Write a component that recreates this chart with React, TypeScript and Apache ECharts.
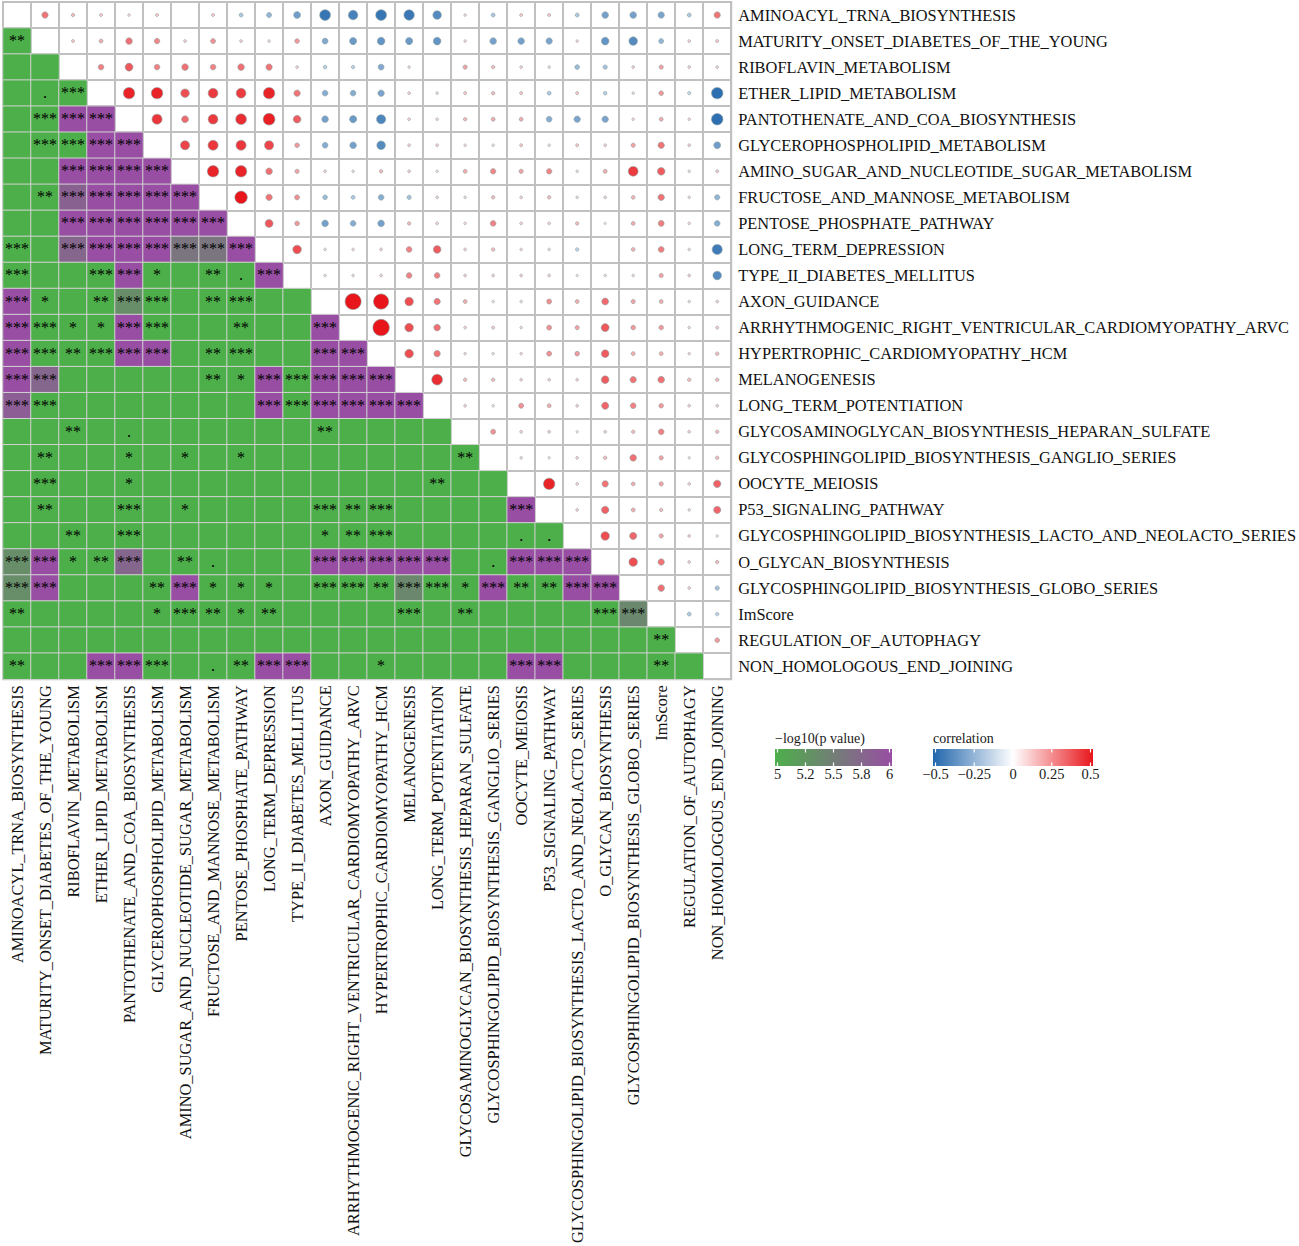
import React, { useEffect, useRef } from "react";
import * as echarts from "echarts";

const labels = [
  "AMINOACYL_TRNA_BIOSYNTHESIS",
  "MATURITY_ONSET_DIABETES_OF_THE_YOUNG",
  "RIBOFLAVIN_METABOLISM",
  "ETHER_LIPID_METABOLISM",
  "PANTOTHENATE_AND_COA_BIOSYNTHESIS",
  "GLYCEROPHOSPHOLIPID_METABOLISM",
  "AMINO_SUGAR_AND_NUCLEOTIDE_SUGAR_METABOLISM",
  "FRUCTOSE_AND_MANNOSE_METABOLISM",
  "PENTOSE_PHOSPHATE_PATHWAY",
  "LONG_TERM_DEPRESSION",
  "TYPE_II_DIABETES_MELLITUS",
  "AXON_GUIDANCE",
  "ARRHYTHMOGENIC_RIGHT_VENTRICULAR_CARDIOMYOPATHY_ARVC",
  "HYPERTROPHIC_CARDIOMYOPATHY_HCM",
  "MELANOGENESIS",
  "LONG_TERM_POTENTIATION",
  "GLYCOSAMINOGLYCAN_BIOSYNTHESIS_HEPARAN_SULFATE",
  "GLYCOSPHINGOLIPID_BIOSYNTHESIS_GANGLIO_SERIES",
  "OOCYTE_MEIOSIS",
  "P53_SIGNALING_PATHWAY",
  "GLYCOSPHINGOLIPID_BIOSYNTHESIS_LACTO_AND_NEOLACTO_SERIES",
  "O_GLYCAN_BIOSYNTHESIS",
  "GLYCOSPHINGOLIPID_BIOSYNTHESIS_GLOBO_SERIES",
  "ImScore",
  "REGULATION_OF_AUTOPHAGY",
  "NON_HOMOLOGOUS_END_JOINING",
];

// lower triangle: -log10(p value), row i (1..25), columns 0..i-1
const pLogRows: number[][] = [
  [5],
  [5, 5],
  [5, 5, 5],
  [5, 5, 6, 6],
  [5, 5, 5, 6, 6],
  [5, 5, 6, 6, 6, 6],
  [5, 5, 5.8, 6, 6, 6, 6],
  [5, 5, 6, 6, 6, 6, 6, 6],
  [5, 5, 5.75, 6, 6, 6, 5.6, 5.6, 6],
  [5, 5, 5, 5, 6, 5, 5, 5, 5, 6],
  [6, 5, 5, 5, 5.35, 5, 5, 5, 5, 5, 5],
  [6, 5, 5, 5, 6, 5, 5, 5, 5, 5, 5, 6],
  [6, 5, 5, 5, 6, 6, 5, 5, 5, 5, 5, 6, 6],
  [6, 5.75, 5, 5, 5, 5, 5, 5, 5, 6, 5, 6, 6, 6],
  [5.85, 5, 5, 5, 5, 5, 5, 5, 5, 6, 5, 6, 6, 6, 6],
  [5, 5, 5, 5, 5, 5, 5, 5, 5, 5, 5, 5, 5, 5, 5, 5],
  [5, 5, 5, 5, 5, 5, 5, 5, 5, 5, 5, 5, 5, 5, 5, 5, 5],
  [5, 5, 5, 5, 5, 5, 5, 5, 5, 5, 5, 5, 5, 5, 5, 5, 5, 5],
  [5, 5, 5, 5, 5, 5, 5, 5, 5, 5, 5, 5, 5, 5, 5, 5, 5, 5, 6],
  [5, 5, 5, 5, 5, 5, 5, 5, 5, 5, 5, 5, 5, 5, 5, 5, 5, 5, 5, 5],
  [5.35, 6, 5, 5, 5.75, 5, 5, 5, 5, 5, 5, 6, 6, 6, 6, 6, 5, 5, 6, 6, 6],
  [5.35, 6, 5, 5, 5, 5, 6, 5, 5, 5, 5, 5, 5, 5, 5.4, 5, 5, 6, 5, 5, 6, 6],
  [5, 5, 5, 5, 5, 5, 5, 5, 5, 5, 5, 5, 5, 5, 5, 5, 5, 5, 5, 5, 5, 5, 5.4],
  [5, 5, 5, 5, 5, 5, 5, 5, 5, 5, 5, 5, 5, 5, 5, 5, 5, 5, 5, 5, 5, 5, 5, 5],
  [5, 5, 5, 6, 6, 5, 5, 5, 5, 6, 6, 5, 5, 5, 5, 5, 5, 5, 6, 6, 5, 5, 5, 5, 5],
];

// lower triangle significance marks
const starRows: string[][] = [
  ["**"],
  ["", ""],
  ["", ".", "***"],
  ["", "***", "***", "***"],
  ["", "***", "***", "***", "***"],
  ["", "", "***", "***", "***", "***"],
  ["", "**", "***", "***", "***", "***", "***"],
  ["", "", "***", "***", "***", "***", "***", "***"],
  ["***", "", "***", "***", "***", "***", "***", "***", "***"],
  ["***", "", "", "***", "***", "*", "", "**", ".", "***"],
  ["***", "*", "", "**", "***", "***", "", "**", "***", "", ""],
  ["***", "***", "*", "*", "***", "***", "", "", "**", "", "", "***"],
  ["***", "***", "**", "***", "***", "***", "", "**", "***", "", "", "***", "***"],
  ["***", "***", "", "", "", "", "", "**", "*", "***", "***", "***", "***", "***"],
  ["***", "***", "", "", "", "", "", "", "", "***", "***", "***", "***", "***", "***"],
  ["", "", "**", "", ".", "", "", "", "", "", "", "**", "", "", "", ""],
  ["", "**", "", "", "*", "", "*", "", "*", "", "", "", "", "", "", "", "**"],
  ["", "***", "", "", "*", "", "", "", "", "", "", "", "", "", "", "**", "", ""],
  ["", "**", "", "", "***", "", "*", "", "", "", "", "***", "**", "***", "", "", "", "", "***"],
  ["", "", "**", "", "***", "", "", "", "", "", "", "*", "**", "***", "", "", "", "", ".", "."],
  ["***", "***", "*", "**", "***", "", "**", ".", "", "", "", "***", "***", "***", "***", "***", "", ".", "***", "***", "***"],
  ["***", "***", "", "", "", "**", "***", "*", "*", "*", "", "***", "***", "**", "***", "***", "*", "***", "**", "**", "***", "***"],
  ["**", "", "", "", "", "*", "***", "**", "*", "**", "", "", "", "", "***", "", "**", "", "", "", "", "***", "***"],
  ["", "", "", "", "", "", "", "", "", "", "", "", "", "", "", "", "", "", "", "", "", "", "", "**"],
  ["**", "", "", "***", "***", "***", "", ".", "**", "***", "***", "", "", "*", "", "", "", "", "***", "***", "", "", "", "**", ""],
];

// upper triangle: correlation, row i (0..24), columns i+1..25
const corrRows: number[][] = [
  [0.3, 0.15, 0.12, 0.08, 0.12, 0, 0.12, -0.18, -0.24, -0.32, -0.45, -0.41, -0.45, -0.44, -0.38, 0.08, -0.18, 0.12, 0.12, -0.18, -0.31, -0.31, -0.3, -0.18, 0.3],
  [0.12, 0.18, 0.31, 0.26, 0.1, 0.24, 0.1, 0.08, 0.22, -0.28, -0.33, -0.35, -0.33, -0.35, 0.08, -0.31, -0.31, -0.3, 0.08, -0.35, -0.38, -0.24, 0.1, 0.12],
  [0.27, 0.36, 0.27, 0.31, 0.27, 0.31, 0.3, 0.1, -0.16, -0.15, -0.28, 0.08, 0, 0.2, 0.15, 0.1, 0.08, -0.22, -0.2, 0.1, 0.2, 0.1, 0.1],
  [0.47, 0.47, 0.38, 0.42, 0.42, 0.47, 0.3, -0.27, -0.27, -0.3, 0.1, 0.08, 0.12, 0.15, 0.12, -0.18, 0.12, -0.16, 0.08, 0.22, -0.13, -0.47],
  [0.43, 0.32, 0.42, 0.45, 0.48, 0.35, -0.31, -0.33, -0.4, 0.1, 0.08, 0.15, 0.18, 0.18, -0.27, -0.3, -0.3, 0.08, 0.18, 0.08, -0.47],
  [0.4, 0.43, 0.43, 0.4, 0.22, -0.27, -0.31, -0.38, 0.1, 0.1, 0.08, 0.08, 0.12, 0.08, 0.12, 0.1, 0.2, 0.3, 0.1, -0.32],
  [0.47, 0.47, 0.31, 0.2, 0.1, 0.08, 0.15, 0.1, 0.08, 0.18, 0.26, 0.2, 0.26, 0.08, 0.18, 0.42, 0.35, 0.08, 0.12],
  [0.5, 0.3, 0.24, -0.22, -0.18, -0.27, -0.2, 0.1, 0.08, 0.15, 0.1, 0.15, 0.08, 0.1, 0.17, 0.3, 0.08, -0.25],
  [0.36, 0.22, -0.31, -0.27, -0.31, 0.15, 0.1, 0.08, 0.27, 0.1, 0.1, 0.15, 0.05, 0.18, 0.28, 0.08, -0.27],
  [0.38, 0.08, 0.08, 0.1, 0.27, 0.35, 0.1, 0.15, 0.08, 0.08, -0.15, 0, 0.17, 0.28, 0.08, -0.43],
  [0.08, 0.08, 0.1, 0.27, 0.27, 0.1, 0.1, 0.1, 0.1, 0.06, 0.08, 0.08, 0.2, 0.1, -0.38],
  [0.59, 0.57, 0.38, 0.3, 0.18, 0.08, 0.08, 0.24, 0.18, 0.32, 0.2, 0.18, 0.08, 0.1],
  [0.6, 0.38, 0.31, 0.1, 0.12, 0.08, 0.24, 0.2, 0.36, 0.22, 0.22, 0.08, 0.12],
  [0.38, 0.3, 0.08, 0.08, 0.08, 0.24, 0.22, 0.35, 0.18, 0.18, 0.08, 0.15],
  [0.45, 0.15, 0.15, 0.1, 0.1, 0.1, 0.35, 0.3, 0.31, 0.15, 0.15],
  [0.1, 0.08, 0.24, 0.18, 0.1, 0.33, 0.27, 0.22, 0.1, 0.1],
  [0.24, 0.1, 0.1, 0.06, 0.1, 0.15, 0.27, 0.1, 0.15],
  [0.08, 0.06, 0.1, 0.15, 0.31, 0.2, 0.06, 0.15],
  [0.47, 0.1, 0.3, 0.18, 0.2, 0.1, 0.34],
  [0.1, 0.34, 0.18, 0.15, 0.08, 0.33],
  [0.38, 0.33, 0.2, 0.1, 0.06],
  [0.38, 0.3, 0.1, 0.15],
  [0.31, 0.1, -0.2],
  [-0.18, -0.15],
  [0.22],
];

const pTicks = [5, 5.25, 5.5, 5.75, 6];
const pTickLabels = ["5", "5.2", "5.5", "5.8", "6"];
const corrTicks = [-0.5, -0.25, 0, 0.25, 0.5];
const corrTickLabels = ["\u22120.5", "\u22120.25", "0", "0.25", "0.5"];

const GREEN = "#4DAF4A";
const PURPLE = "#984EA3";
const BLUE = "#2166AC";
const RED = "#E8161B";
const FONT = '"Liberation Serif", "Times New Roman", serif';

function buildLegend() {
  const els: any[] = [];
  const addBar = (
    title: string,
    x: number,
    w: number,
    stops: any[],
    ticks: number[],
    tickLabels: string[],
    vmin: number,
    vmax: number
  ) => {
    const y = 749;
    const h = 17;
    els.push({
      type: "text",
      x: x,
      y: 738,
      style: { text: title, font: `14px ${FONT}`, fill: "#1a1a1a", textVerticalAlign: "middle", textAlign: "left" },
    });
    els.push({
      type: "rect",
      shape: { x, y, width: w, height: h },
      style: { fill: new echarts.graphic.LinearGradient(0, 0, 1, 0, stops) },
    });
    ticks.forEach((t, k) => {
      const px = x + 2.5 + ((t - vmin) / (vmax - vmin)) * (w - 5);
      els.push({ type: "line", shape: { x1: px, y1: y, x2: px, y2: y + 3.5 }, style: { stroke: "#fff", lineWidth: 1.2 } });
      els.push({ type: "line", shape: { x1: px, y1: y + h - 3.5, x2: px, y2: y + h }, style: { stroke: "#fff", lineWidth: 1.2 } });
      els.push({
        type: "text",
        x: px,
        y: 774,
        style: { text: tickLabels[k], font: `14.5px ${FONT}`, fill: "#1a1a1a", textAlign: "center", textVerticalAlign: "middle" },
      });
    });
  };
  addBar(
    "\u2212log10(p value)",
    775,
    117,
    [
      { offset: 0, color: GREEN },
      { offset: 1, color: PURPLE },
    ],
    pTicks,
    pTickLabels,
    5,
    6
  );
  addBar(
    "correlation",
    933,
    160,
    [
      { offset: 0, color: BLUE },
      { offset: 0.5, color: "#FFFFFF" },
      { offset: 1, color: RED },
    ],
    corrTicks,
    corrTickLabels,
    -0.5,
    0.5
  );
  return els;
}

export default function App() {
  const ref = useRef<HTMLDivElement>(null);
  useEffect(() => {
    document.body.style.margin = "0";
    document.body.style.overflow = "hidden";
    if (!ref.current) return;
    const chart = echarts.init(ref.current, undefined, { renderer: "svg" });

    const heatData: any[] = [];
    pLogRows.forEach((row, r) => {
      const i = r + 1;
      row.forEach((v, j) => {
        heatData.push({ value: [j, i, v], stars: starRows[r][j] || "" });
      });
    });
    const heatStars = heatData.map((d) => d.stars);

    const corrData: any[] = [];
    corrRows.forEach((row, i) => {
      row.forEach((v, k) => {
        // 4th dimension: value clamped to the colour bar's range
        corrData.push([i + 1 + k, i, v, Math.max(-0.5, Math.min(0.5, v))]);
      });
    });

    const option: any = {
      animation: false,
      backgroundColor: "#ffffff",
      grid: {
        left: 3,
        top: 2,
        width: 730,
        height: 678,
        show: true,
        borderColor: "#c0c0c0",
        borderWidth: 2,
        backgroundColor: "transparent",
      },
      xAxis: {
        type: "category",
        data: labels,
        position: "bottom",
        axisLine: { show: false },
        axisTick: { show: false },
        splitLine: { show: true, interval: 0, lineStyle: { color: "#c0c0c0", width: 2 } },
        axisLabel: {
          rotate: 90,
          interval: 0,
          margin: 6,
          fontSize: 16.4,
          fontFamily: FONT,
          color: "#111111",
        },
      },
      yAxis: {
        type: "category",
        data: labels,
        inverse: true,
        position: "right",
        axisLine: { show: false },
        axisTick: { show: false },
        splitLine: { show: true, interval: 0, lineStyle: { color: "#c0c0c0", width: 2 } },
        axisLabel: {
          interval: 0,
          margin: 7,
          fontSize: 16.4,
          fontFamily: FONT,
          color: "#111111",
        },
      },
      visualMap: [
        {
          type: "continuous",
          show: false,
          seriesIndex: 0,
          dimension: 2,
          min: 5,
          max: 6,
          inRange: { color: [GREEN, PURPLE] },
        },
        {
          type: "continuous",
          show: false,
          seriesIndex: 1,
          dimension: 3,
          min: -0.5,
          max: 0.5,
          inRange: { color: [BLUE, "#FFFFFF", RED] },
        },
      ],
      series: [
        {
          type: "heatmap",
          data: heatData,
          itemStyle: { borderColor: "#d2d2d2", borderWidth: 1 },
          label: {
            show: true,
            formatter: (p: any) => heatStars[p.dataIndex],
            color: "#000000",
            fontSize: 16,
            fontFamily: FONT,
            offset: [0, -0.5],
          },
          emphasis: { disabled: true },
        },
        {
          type: "scatter",
          data: corrData,
          symbol: "circle",
          symbolSize: (v: number[]) => {
            const a = Math.abs(v[2]);
            return a === 0 ? 0 : 2 + 5 * a + 32 * a * a;
          },
          itemStyle: { borderColor: "rgba(140,160,160,0.75)", borderWidth: 0.8, opacity: 1 },
          emphasis: { disabled: true },
        },
      ],
      graphic: buildLegend(),
    };
    chart.setOption(option);
    return () => chart.dispose();
  }, []);
  return <div ref={ref} style={{ width: 1299, height: 1246 }} />;
}
